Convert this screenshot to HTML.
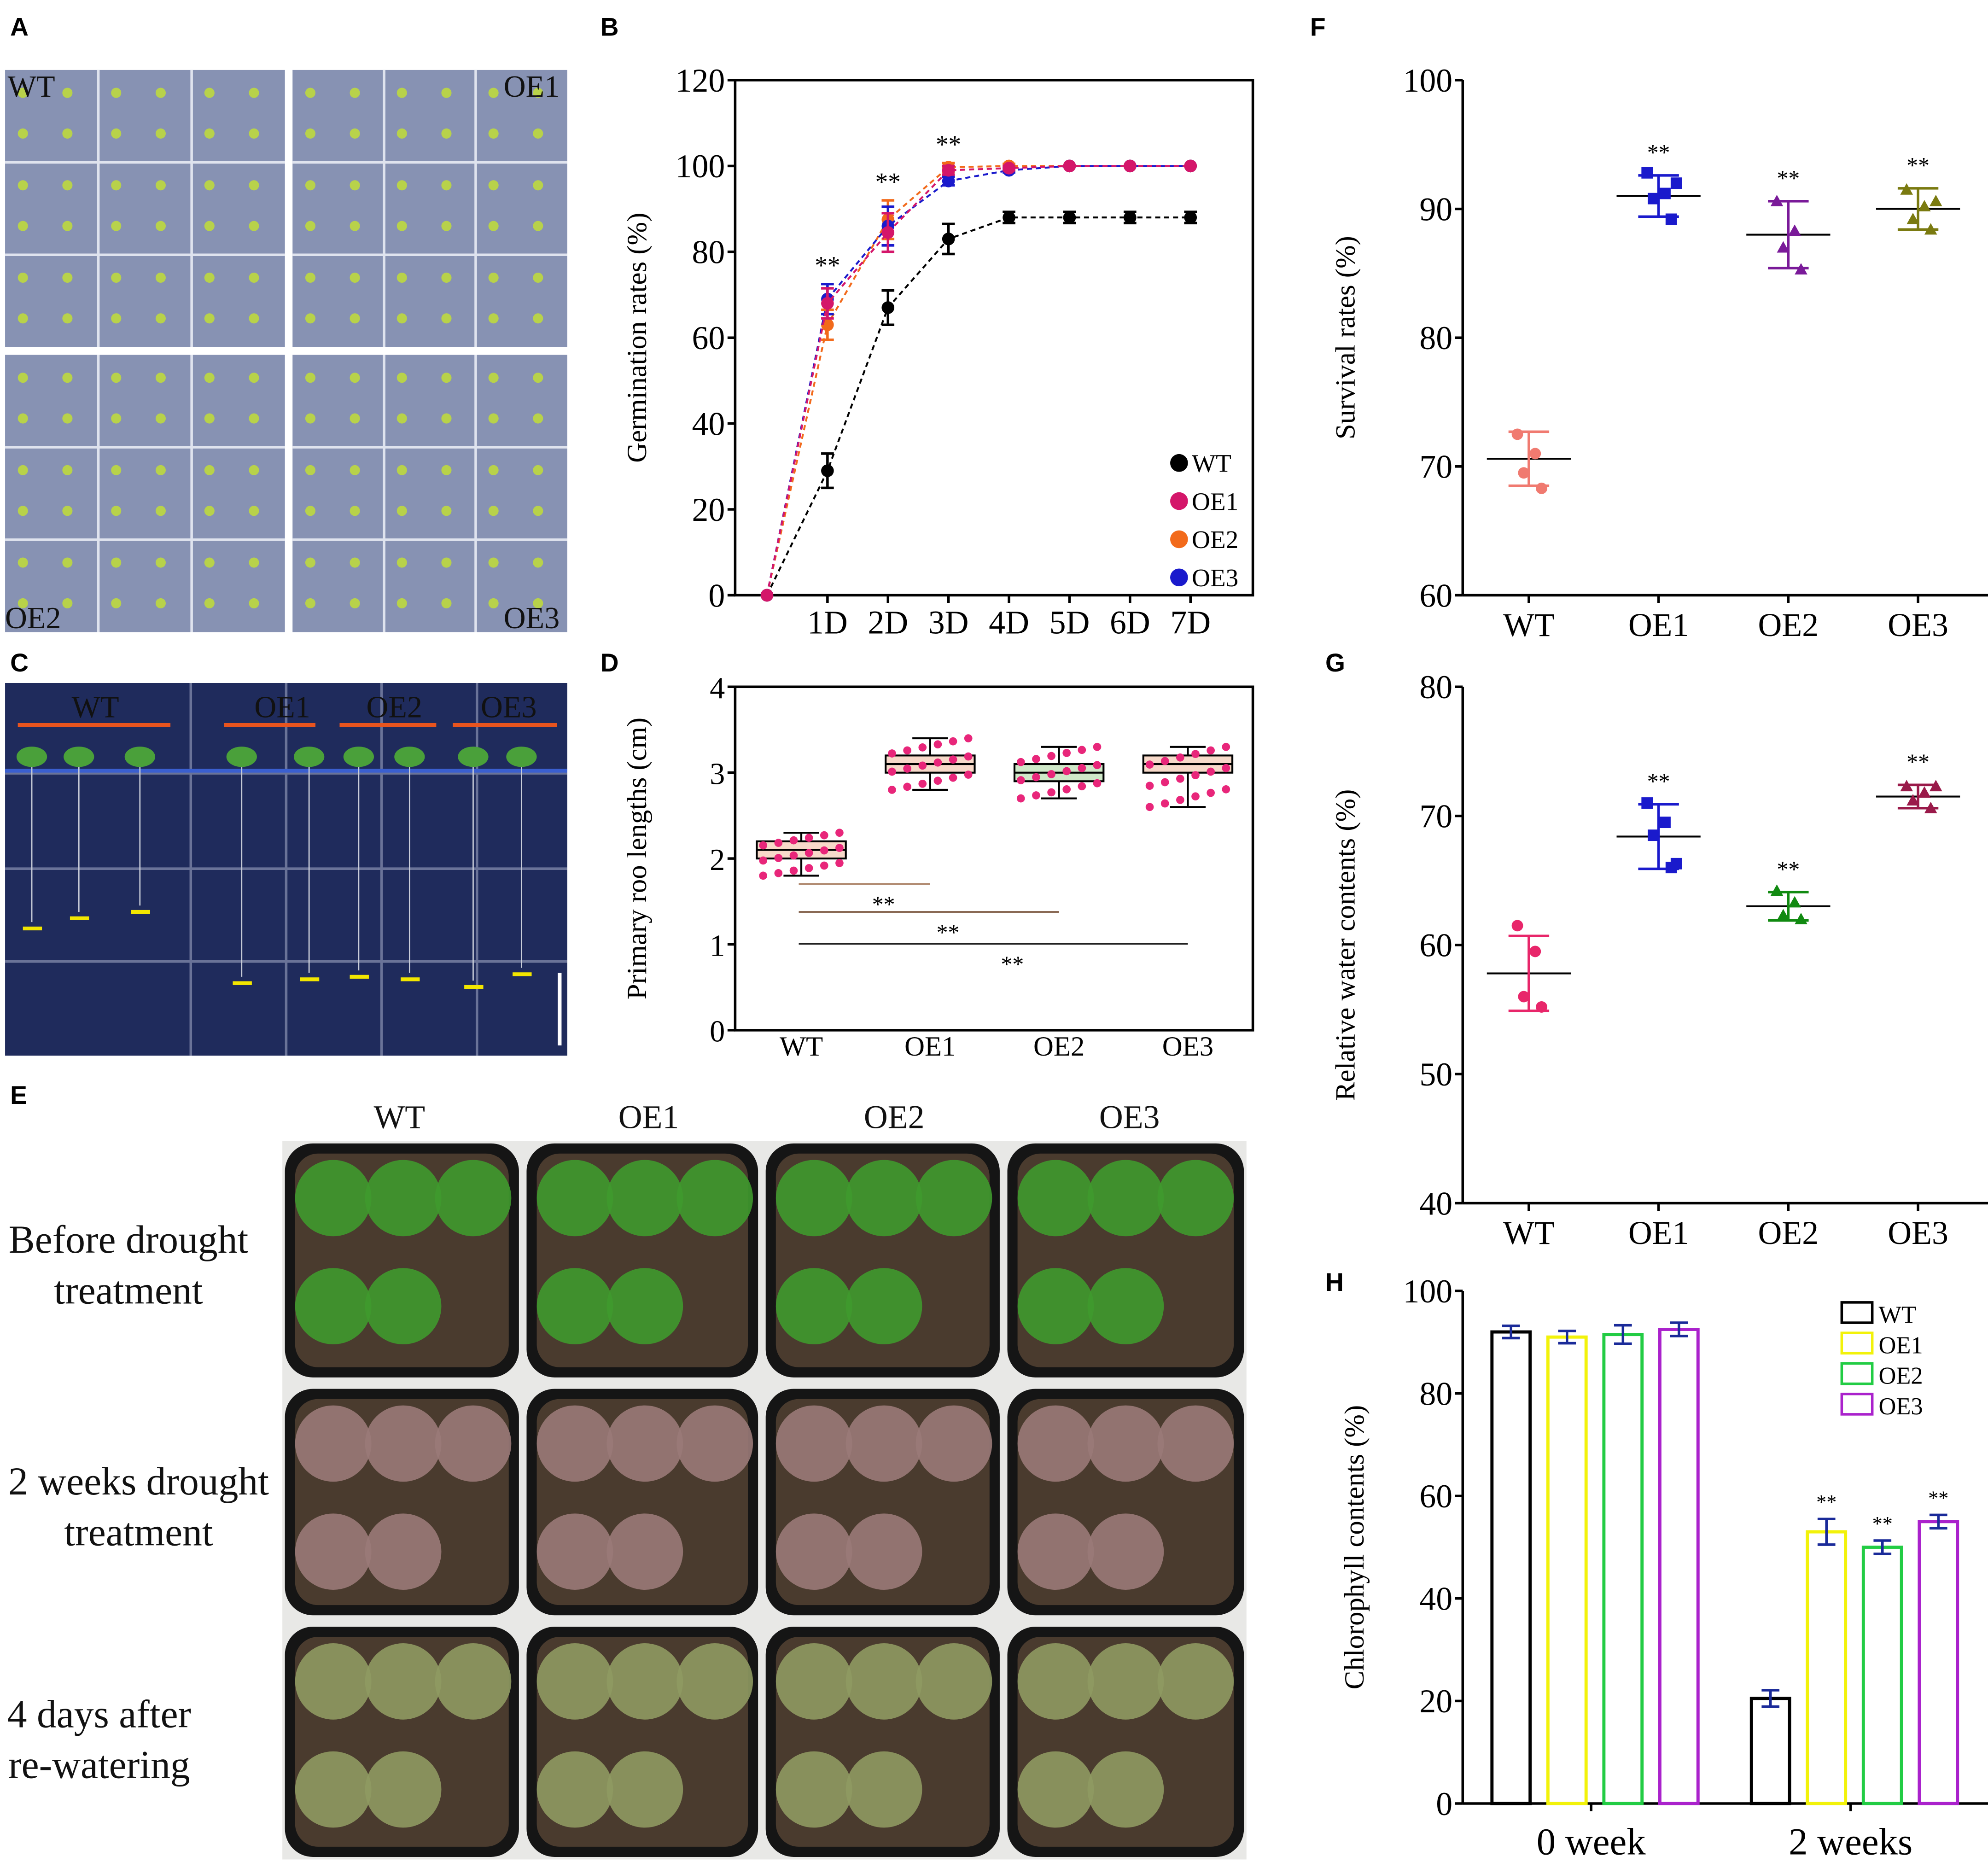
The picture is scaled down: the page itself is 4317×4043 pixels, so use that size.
<!DOCTYPE html>
<html><head><meta charset="utf-8">
<style>
html,body{margin:0;padding:0;background:#fff;}
svg{display:block;font-family:"Liberation Serif",serif;}
.pl{font-family:"Liberation Sans",sans-serif;font-weight:bold;font-size:20px;}
</style></head>
<body>
<svg id="fig" width="4317" height="4043" viewBox="0 0 1563 1464" preserveAspectRatio="none" xmlns="http://www.w3.org/2000/svg">
<rect width="1563" height="1464" fill="#fff"/>
<text class="pl" x="8" y="28">A</text>
<text class="pl" x="472" y="28">B</text>
<text class="pl" x="1030" y="28">F</text>
<text class="pl" x="8" y="528">C</text>
<text class="pl" x="472" y="528">D</text>
<text class="pl" x="1042" y="528">G</text>
<text class="pl" x="8" y="868">E</text>
<text class="pl" x="1042" y="1015">H</text>
<g id="photos"></g>
<g id="chartB"></g><g id="chartD"></g><g id="chartF"></g><g id="chartG"></g><g id="chartH"></g>
</svg>
<script>
// ---- data ----
const gDays = ["", "1D","2D","3D","4D","5D","6D","7D"];
const gWT  = [0, 29, 67, 83, 88, 88, 88, 88];
const gOE1 = [0, 68, 84.5, 99, 99.5, 100, 100, 100];
const gOE2 = [0, 63, 87.5, 99.7, 100, 100, 100, 100];
const gOE3 = [0, 69, 86, 96.5, 99, 100, 100, 100];
const gWTerr = [0, 4, 4, 3.5, 1.3, 1.3, 1.3, 1.3];
const gOEerr = [0, 3.5, 4.5, 1, 0.5, 0, 0, 0];
const gTicks = [0,20,40,60,80,100,120];

const rootLines = ["WT","OE1","OE2","OE3"];
const rootMed = [2.1, 3.1, 3.0, 3.1];
const rootQ1 = [2.0, 3.0, 2.9, 3.0];
const rootQ3 = [2.2, 3.2, 3.1, 3.2];
const rootMin = [1.8, 2.8, 2.7, 2.6];
const rootMax = [2.3, 3.4, 3.3, 3.3];
const rootTicks = [0,1,2,3,4];

const survCats = ["WT","OE1","OE2","OE3"];
const survMean = [70.6, 91, 88, 90];
const survSD = [2.1, 1.6, 2.6, 1.6];
const survPts = [[72.5,71,69.5,68.3],[92.8,91.2,90.8,89.2,92],[90.6,88.3,87,85.3],[91.5,90.2,89.2,88.4,90.6]];
const survTicks = [60,70,80,90,100];

const rwcMean = [57.8, 68.4, 63, 71.5];
const rwcSD = [2.9, 2.5, 1.1, 0.9];
const rwcPts = [[61.5,59.5,56,55.2],[71,69.5,68.5,66,66.3],[64.2,63.3,62.3,62],[72.3,71.8,71.2,70.6,72.3]];
const rwcTicks = [40,50,60,70,80];

const chlGroups = ["0 week","2 weeks"];
const chlLines = ["WT","OE1","OE2","OE3"];
const chl0 = [92, 91, 91.5, 92.5];
const chl2 = [20.5, 53, 50, 55];
const chl0err = [1.2, 1.2, 1.8, 1.3];
const chl2err = [1.6, 2.5, 1.3, 1.3];
const chlTicks = [0,20,40,60,80,100];

// ---- helpers ----
const NS="http://www.w3.org/2000/svg";
function el(parent, tag, attrs, text){const e=document.createElementNS(NS,tag);for(const k in attrs)e.setAttribute(k,attrs[k]);if(text!==undefined)e.textContent=text;parent.appendChild(e);return e;}
function lin(d0,d1,r0,r1){return v=>r0+(v-d0)*(r1-r0)/(d1-d0);}

// ---- photos (placeholders) ----
const P=document.getElementById('photos');
function photoA(x,y,w,h,label,lx,ly,nm){
  const g=el(P,'g',{});
  
  
  el(g,'rect',{x:x,y:y,width:w,height:h,fill:'#8792b3'});
  for(let i=1;i<3;i++){el(g,'line',{x1:x+w*i/3,y1:y,x2:x+w*i/3,y2:y+h,stroke:'#dfe3ee','stroke-width':2});
    el(g,'line',{x1:x,y1:y+h*i/3,x2:x+w,y2:y+h*i/3,stroke:'#dfe3ee','stroke-width':2});}
  for(let r=0;r<3;r++)for(let c=0;c<3;c++)for(let k=0;k<4;k++){
    el(g,'circle',{cx:x+w*c/3+14+(k%2)*35,cy:y+h*r/3+18+Math.floor(k/2)*32,r:4,fill:'#b8d24a'});}
  el(g,'text',{x:lx,y:ly,'font-size':24,fill:'#111'},label);
}
photoA(4,55,220,218,'WT',6,76,'photo-wt-seeds');
photoA(230,55,216,218,'OE1',396,76,'photo-oe1-seeds');
photoA(4,279,220,218,'OE2',4,494,'photo-oe2-seeds');
photoA(230,279,216,218,'OE3',396,494,'photo-oe3-seeds');
(function(){
  const g=el(P,'g',{});
  
  
  el(g,'rect',{x:4,y:537,width:442,height:293,fill:'#1f2b5c'});
  [150,225,300,375].forEach(x=>el(g,'line',{x1:x,y1:537,x2:x,y2:830,stroke:'#6a7398','stroke-width':2}));
  [608,683,756].forEach(y=>el(g,'line',{x1:4,y1:y,x2:446,y2:y,stroke:'#6a7398','stroke-width':2}));
  el(g,'line',{x1:4,y1:606,x2:446,y2:606,stroke:'#3a5fd0','stroke-width':3});
  [[14,134],[176,248],[267,343],[356,438]].forEach(a=>el(g,'line',{x1:a[0],y1:570,x2:a[1],y2:570,stroke:'#e8541e','stroke-width':3}));
  [['WT',75],['OE1',222],['OE2',310],['OE3',400]].forEach(a=>el(g,'text',{x:a[1],y:564,'font-size':24,fill:'#111','text-anchor':'middle'},a[0]));
  const xs=[25,62,110,190,243,282,322,372,410], ys=[730,722,717,773,770,768,770,776,766];
  xs.forEach((x,i)=>{el(g,'line',{x1:x,y1:600,x2:x,y2:ys[i]-5,stroke:'#c8ccd8','stroke-width':1});
    el(g,'ellipse',{cx:x,cy:595,rx:12,ry:8,fill:'#4aa03a'});
    el(g,'line',{x1:x-7,y1:ys[i],x2:x+8,y2:ys[i],stroke:'#f2e600','stroke-width':3});});
  el(g,'line',{x1:440,y1:765,x2:440,y2:822,stroke:'#fff','stroke-width':3});
})();
(function(){
  const g=el(P,'g',{});
  
  
  const cols=[[222,410],[412,598],[600,788],[790,980]], rows=[[897,1085],[1090,1272],[1277,1462]];
  const leaf=['#3f9a2e','#9a7a78','#8f9a62'];
  el(g,'rect',{x:222,y:897,width:758,height:565,fill:'#e8e8e6'});
  rows.forEach((r,ri)=>cols.forEach(c=>{
    el(g,'rect',{x:c[0]+2,y:r[0]+2,width:c[1]-c[0]-4,height:r[1]-r[0]-4,rx:22,fill:'#151515'});
    el(g,'rect',{x:c[0]+10,y:r[0]+10,width:c[1]-c[0]-20,height:r[1]-r[0]-20,rx:18,fill:'#4a3b2e'});
    for(let k=0;k<5;k++){const cx=c[0]+40+(k%3)*55, cy=r[0]+45+Math.floor(k/3)*85;
      el(g,'circle',{cx:cx,cy:cy,r:30,fill:leaf[ri],opacity:0.9});}
  }));
  [['WT',314],['OE1',510],['OE2',703],['OE3',888]].forEach(a=>el(g,'text',{x:a[1],y:887,'font-size':26,fill:'#111','text-anchor':'middle'},a[0]));
})();
[['Before drought',101,985],['treatment',101,1025],['2 weeks drought',109,1175],['treatment',109,1215],['4 days after',78,1358],['re-watering',78,1398]].forEach(a=>{
  const t=el(P,'text',{x:a[1],y:a[2],'font-size':31,fill:'#111','text-anchor':'middle'},a[0]);
  
  
});

// ---- axis frame ----
function frame(g,x0,x1,y0,y1,ticks,ys,title,fs,box,toff){
  if(box) el(g,'rect',{x:x0,y:y0,width:x1-x0,height:y1-y0,fill:'none',stroke:'#000','stroke-width':2});
  else {el(g,'line',{x1:x0,y1:y0,x2:x0,y2:y1,stroke:'#000','stroke-width':2});el(g,'line',{x1:x0,y1:y1,x2:x1,y2:y1,stroke:'#000','stroke-width':2});}
  ticks.forEach(t=>{el(g,'line',{x1:x0-6,y1:ys(t),x2:x0,y2:ys(t),stroke:'#000','stroke-width':2});
    const tt=el(g,'text',{x:x0-8,y:ys(t)+9,'font-size':fs,'text-anchor':'end'},t);
    
    });
  const cy=(y0+y1)/2, tx=el(g,'text',{x:0,y:0,'font-size':22,'text-anchor':'middle',transform:`translate(${x0-(toff||65)},${cy}) rotate(-90)`},title);
  
  
}

// ---- B ----
(function(){
  const g=document.getElementById('chartB');
  
  
  const X=lin(0,7,603,936), Y=lin(0,120,468,63);
  frame(g,578,985,63,468,gTicks,Y,'Germination rates (%)',26,true,70);
  gDays.forEach((d,i)=>{if(i){el(g,'line',{x1:X(i),y1:468,x2:X(i),y2:474,stroke:'#000','stroke-width':2});
    const t=el(g,'text',{x:X(i),y:498,'font-size':26,'text-anchor':'middle'},d);
    
    }});
  const ser=[[gWT,'#000',gWTerr],[gOE2,'#f26a1b',gOEerr],[gOE3,'#1a1acc',gOEerr],[gOE1,'#d4166a',gOEerr]];
  ser.forEach(s=>{
    const pts=s[0].map((v,i)=>X(i)+','+Y(v)).join(' ');
    const pl=el(g,'polyline',{points:pts,fill:'none',stroke:s[1],'stroke-width':1.5,'stroke-dasharray':'4,3'});
    
    
    s[0].forEach((v,i)=>{const e=s[2][i];
      if(e>0){el(g,'line',{x1:X(i),y1:Y(v-e),x2:X(i),y2:Y(v+e),stroke:s[1],'stroke-width':2});
        el(g,'line',{x1:X(i)-5,y1:Y(v-e),x2:X(i)+5,y2:Y(v-e),stroke:s[1],'stroke-width':2});
        el(g,'line',{x1:X(i)-5,y1:Y(v+e),x2:X(i)+5,y2:Y(v+e),stroke:s[1],'stroke-width':2});}
      const c=el(g,'circle',{cx:X(i),cy:Y(v),r:5,fill:s[1]});
      
      });
  });
  [1,2,3].forEach(i=>el(g,'text',{x:X(i),y:Y(Math.max(gOE1[i],gOE2[i],gOE3[i])+gOEerr[i])-8,'font-size':20,'text-anchor':'middle'},'**'));
  [['WT','#000'],['OE1','#d4166a'],['OE2','#f26a1b'],['OE3','#1a1acc']].forEach((l,i)=>{
    const lg=el(g,'g',{});
    
    
    el(lg,'circle',{cx:927,cy:364+i*30,r:7,fill:l[1]});
    el(lg,'text',{x:937,y:371+i*30,'font-size':20},l[0]);});
})();

// ---- D ----
(function(){
  const g=document.getElementById('chartD');
  
  
  const X=i=>630+i*101.3, Y=lin(0,4,810,540);
  frame(g,578,985,540,810,rootTicks,Y,'Primary roo lengths (cm)',24,true,70);
  rootLines.forEach((n,i)=>{
    const t=el(g,'text',{x:X(i),y:830,'font-size':22,'text-anchor':'middle'},n);
    
    
    const x=X(i);
    el(g,'line',{x1:x,y1:Y(rootMin[i]),x2:x,y2:Y(rootMax[i]),stroke:'#000','stroke-width':1.5});
    el(g,'line',{x1:x-14,y1:Y(rootMin[i]),x2:x+14,y2:Y(rootMin[i]),stroke:'#000','stroke-width':1.5});
    el(g,'line',{x1:x-14,y1:Y(rootMax[i]),x2:x+14,y2:Y(rootMax[i]),stroke:'#000','stroke-width':1.5});
    const b=el(g,'rect',{x:x-35,y:Y(rootQ3[i]),width:70,height:Y(rootQ1[i])-Y(rootQ3[i]),fill:i==2?'#cfe8c8':'#f7d9c9',stroke:'#000','stroke-width':1.5});
    
    
    el(g,'line',{x1:x-35,y1:Y(rootMed[i]),x2:x+35,y2:Y(rootMed[i]),stroke:'#000','stroke-width':1.5});
    for(let k=0;k<18;k++){const v=rootMin[i]+(rootMax[i]-rootMin[i])*((k*7)%18)/17;
      el(g,'circle',{cx:x-30+(k%6)*12,cy:Y(v),r:3.2,fill:'#e8267a'});}
  });
  [[X(1),695,'#b08a70',705],[X(2),717,'#8a6a55',727],[X(3),742,'#222',752]].forEach(a=>{
    el(g,'line',{x1:628,y1:a[1],x2:a[0],y2:a[1],stroke:a[2],'stroke-width':1.5});
    el(g,'text',{x:(628+a[0])/2+15,y:a[3]+12,'font-size':18,'text-anchor':'middle'},'**');});
})();

// ---- scatter F/G ----
function scatter(id,name,y0,y1,lo,hi,ticks,mean,sd,pts,title){
  const g=document.getElementById(id);
  
  
  const X=i=>1202+i*102, Y=lin(lo,hi,y1,y0);
  frame(g,1150,1563,y0,y1,ticks,Y,title,26,false,85);
  const cols=['#f07a70','#1a1acc','#7a1a99','#7a7a10'];
  const sh=['circle','square','tri','tri'];
  survCats.forEach((n,i)=>{const x=X(i);
    el(g,'line',{x1:x,y1:y1,x2:x,y2:y1+6,stroke:'#000','stroke-width':2});
    const t=el(g,'text',{x:x,y:y1+32,'font-size':26,'text-anchor':'middle'},n);
    
    
    const c=id=='chartG'?['#e8266a','#1a1acc','#118a11','#9a1a4a'][i]:cols[i];
    el(g,'line',{x1:x-33,y1:Y(mean[i]),x2:x+33,y2:Y(mean[i]),stroke:'#000','stroke-width':1.5});
    el(g,'line',{x1:x,y1:Y(mean[i]-sd[i]),x2:x,y2:Y(mean[i]+sd[i]),stroke:c,'stroke-width':2});
    el(g,'line',{x1:x-16,y1:Y(mean[i]-sd[i]),x2:x+16,y2:Y(mean[i]-sd[i]),stroke:c,'stroke-width':2});
    el(g,'line',{x1:x-16,y1:Y(mean[i]+sd[i]),x2:x+16,y2:Y(mean[i]+sd[i]),stroke:c,'stroke-width':2});
    pts[i].forEach((v,k)=>{const px=x+[-9,5,-4,10,14,-14][k],py=Y(v);let m;
      const s=id=='chartG'?['circle','square','tri','tri'][i]:sh[i];
      if(s=='circle')m=el(g,'circle',{cx:px,cy:py,r:4.5,fill:c});
      else if(s=='square')m=el(g,'rect',{x:px-4.5,y:py-4.5,width:9,height:9,fill:c});
      else m=el(g,'polygon',{points:`${px},${py-5} ${px-5},${py+4} ${px+5},${py+4}`,fill:c});
      
      });
    if(i>0) el(g,'text',{x:x,y:Y(mean[i]+sd[i])-12,'font-size':18,'text-anchor':'middle'},'**');
  });
}
scatter('chartF','survival-chart',63,468,60,100,survTicks,survMean,survSD,survPts,'Survival rates (%)');
scatter('chartG','water-content-chart',540,946,40,80,rwcTicks,rwcMean,rwcSD,rwcPts,'Relative water contents (%)');

// ---- H ----
(function(){
  const g=document.getElementById('chartH');
  
  
  const Y=lin(0,100,1418,1015);
  frame(g,1150,1563,1015,1418,chlTicks,Y,'Chlorophyll contents (%)',26,false,78);
  const cols=['#000','#f2f20a','#22cc44','#aa22cc'];
  const starts=[1173,1377];
  [chl0,chl2].forEach((vals,gi)=>{
    const errs=gi?chl2err:chl0err;
    const t=el(g,'text',{x:starts[gi]+78,y:1458,'font-size':30,'text-anchor':'middle'},chlGroups[gi]);
    
    
    el(g,'line',{x1:starts[gi]+78,y1:1418,x2:starts[gi]+78,y2:1424,stroke:'#000','stroke-width':2});
    vals.forEach((v,i)=>{const x=starts[gi]+i*44;
      const b=el(g,'rect',{x:x,y:Y(v),width:30,height:1418-Y(v),fill:'none',stroke:cols[i],'stroke-width':2.5});
      
      
      const cx=x+15,e=errs[i];
      el(g,'line',{x1:cx,y1:Y(v-e),x2:cx,y2:Y(v+e),stroke:'#1a2a99','stroke-width':2});
      el(g,'line',{x1:cx-7,y1:Y(v-e),x2:cx+7,y2:Y(v-e),stroke:'#1a2a99','stroke-width':2});
      el(g,'line',{x1:cx-7,y1:Y(v+e),x2:cx+7,y2:Y(v+e),stroke:'#1a2a99','stroke-width':2});
      if(gi&&i) el(g,'text',{x:cx,y:Y(v+e)-8,'font-size':16,'text-anchor':'middle'},'**');
    });
  });
  chlLines.forEach((n,i)=>{
    const lg=el(g,'g',{});
    
    
    el(lg,'rect',{x:1448,y:1024+i*24,width:24,height:16,fill:'none',stroke:cols[i],'stroke-width':2});
    el(lg,'text',{x:1477,y:1040+i*24,'font-size':19},n);});
})();
</script>
</body></html>
